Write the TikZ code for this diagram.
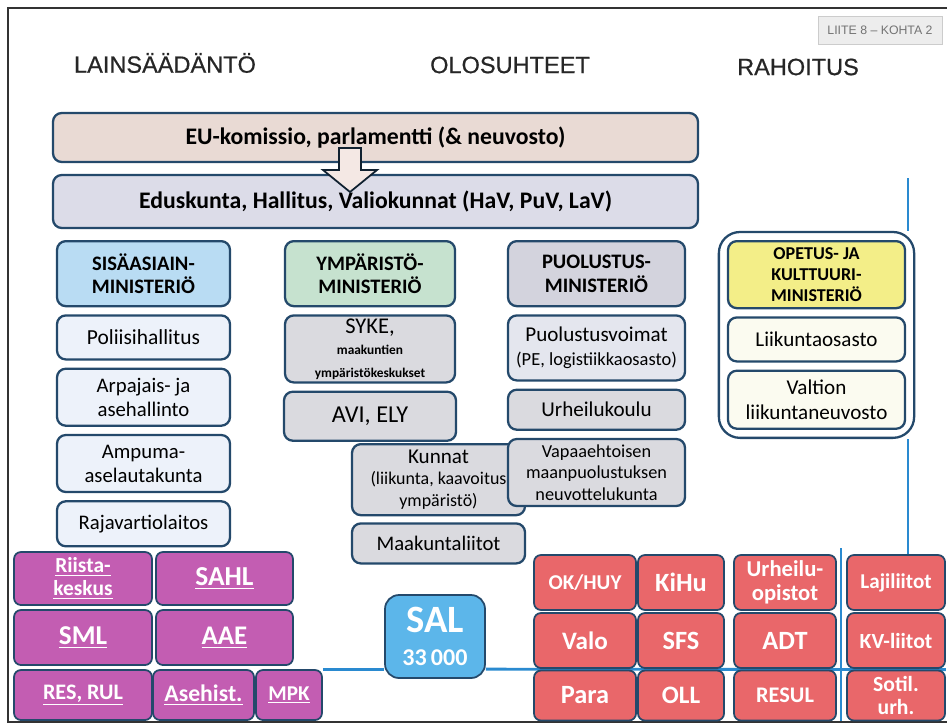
\documentclass[tikz,border=0pt]{standalone}
\usepackage{fontspec}
\setmainfont{Carlito}
\newfontfamily\titlefont{Liberation Sans}[FakeBold=0.6]
\newfontfamily\stampfont{Liberation Sans}
\usetikzlibrary{positioning,fit,backgrounds}

\definecolor{edge}{HTML}{24496B}
\definecolor{framegray}{HTML}{333333}
\definecolor{titlegray}{HTML}{262626}
\definecolor{eufill}{HTML}{E9DAD4}
\definecolor{parlfill}{HTML}{DCDCE8}
\definecolor{sisafill}{HTML}{B9DCF3}
\definecolor{sisasub}{HTML}{EDF2FA}
\definecolor{ympfill}{HTML}{C6E2CF}
\definecolor{graysub}{HTML}{DADADF}
\definecolor{puolfill}{HTML}{D3D3DD}
\definecolor{pvfill}{HTML}{E4E6EE}
\definecolor{okmfill}{HTML}{F3EE88}
\definecolor{okmsub}{HTML}{FBFBF0}
\definecolor{violetfill}{HTML}{C35DB2}
\definecolor{redfill}{HTML}{E9676A}
\definecolor{salfill}{HTML}{5CB6EA}
\definecolor{linkblue}{HTML}{2A8AD0}
\definecolor{arrowfill}{HTML}{F4E8E4}

\begin{document}
\begin{tikzpicture}[x=0.2mm,y=-0.2mm,
  node distance=1.4mm,
  box/.style={draw=edge,line width=1.3pt,rounded corners=5pt,align=center,inner sep=1pt,font=\fontsize{11.8}{13.7}\selectfont},
  head/.style={box,font=\bfseries\fontsize{11.7}{13.5}\selectfont},
  tile/.style={draw=edge,line width=1pt,rounded corners=4pt,align=center,inner sep=1pt,text=white,font=\bfseries\fontsize{15}{16}\selectfont},
  violet/.style={tile,fill=violetfill},
  redtile/.style={tile,fill=redfill},
  link/.style={draw=linkblue,line width=1.6pt},
  title/.style={font=\titlefont\fontsize{13.4}{15}\selectfont,text=titlegray}
]
\useasboundingbox (0,0) rectangle (947,724);

% frame and stamp
\draw[framegray,line width=1.1pt] (947,8) -- (8,8) -- (8,722) -- (947,722);
\node[draw=black!20,fill=black!7,text=black!55,font=\stampfont\fontsize{7}{8}\selectfont,
      minimum width=2.48cm,minimum height=0.56cm,inner sep=1pt] (stamp) at (880,30) {LIITE 8 – KOHTA 2};

\node[title] (laki) at (165,63) {LAINSÄÄDÄNTÖ};
\node[title] (olot) at (510,65) {OLOSUHTEET};
\node[title] (raha) at (798,67) {RAHOITUS};

\node[box,fill=eufill,font=\bfseries\fontsize{13.5}{15}\selectfont,minimum width=12.9cm,minimum height=0.98cm] (eu) at (375.5,137.5) {EU-komissio, parlamentti (\& neuvosto)};
\node[box,fill=parlfill,font=\bfseries\fontsize{13.5}{15}\selectfont,minimum width=12.9cm,minimum height=1.06cm] (parl) at (375.5,201.5) {Eduskunta, Hallitus, Valiokunnat (HaV, PuV, LaV)};

% hollow arrow EU -> Eduskunta
\draw[draw=black!55!edge,fill=arrowfill,line width=1pt] (339,148) -- (361,148) -- (361,170) -- (377,170) -- (350,192) -- (323,170) -- (339,170) -- cycle;

% Sisäasiainministeriö
\node[head,fill=sisafill,minimum width=3.46cm,minimum height=1.3cm,anchor=north] (sisa) at (143.5,240) {SISÄASIAIN-\\MINISTERIÖ};
\node[box,fill=sisasub,minimum width=3.46cm,minimum height=0.88cm,below=of sisa,font=\fontsize{12.2}{13.5}\selectfont] (poli) {Poliisihallitus};
\node[box,fill=sisasub,minimum width=3.46cm,minimum height=1.14cm,below=of poli] (arpa) {Arpajais- ja\\asehallinto};
\node[box,fill=sisasub,minimum width=3.46cm,minimum height=1.14cm,below=of arpa] (ampu) {Ampuma-\\aselautakunta};
\node[box,fill=sisasub,minimum width=3.46cm,minimum height=0.9cm,below=of ampu] (raja) {Rajavartiolaitos};

% Ympäristöministeriö
\node[head,fill=ympfill,minimum width=3.4cm,minimum height=1.3cm,anchor=north] (ymp) at (370,240) {YMPÄRISTÖ-\\MINISTERIÖ};
\node[box,fill=graysub,minimum width=3.4cm,minimum height=1.34cm,below=of ymp,font=\fontsize{12.8}{13}\selectfont] (syke) {SYKE,\\[-1pt]{\bfseries\fontsize{7.6}{9}\selectfont maakuntien}\\{\bfseries\fontsize{7.6}{9}\selectfont ympäristökeskukset}};
\node[box,fill=graysub,minimum width=3.44cm,minimum height=0.98cm,below=of syke,font=\fontsize{13.8}{15}\selectfont] (avi) {AVI, ELY};
\node[box,fill=graysub,minimum width=3.46cm,minimum height=1.42cm,anchor=north,font=\fontsize{12}{12.5}\selectfont] (kunnat) at (438.5,443) {Kunnat\\{\fontsize{10.2}{11.5}\selectfont (liikunta, kaavoitus}\\{\fontsize{10.2}{11.5}\selectfont ympäristö)}};
\node[box,fill=graysub,minimum width=3.46cm,minimum height=0.8cm,below=1.2mm of kunnat] (maak) {Maakuntaliitot};

% Puolustusministeriö
\node[head,fill=puolfill,minimum width=3.54cm,minimum height=1.3cm,anchor=north] (puol) at (596.5,240) {PUOLUSTUS-\\MINISTERIÖ};
\node[box,fill=pvfill,minimum width=3.54cm,minimum height=1.3cm,below=of puol,font=\fontsize{12}{13.5}\selectfont] (pv) {Puolustusvoimat\\{\fontsize{10.5}{12}\selectfont (PE, logistiikkaosasto)}};
\node[box,fill=graysub,minimum width=3.54cm,minimum height=0.8cm,below=of pv,font=\fontsize{12}{13}\selectfont] (urhk) {Urheilukoulu};
\node[box,fill=graysub,minimum width=3.54cm,minimum height=1.34cm,below=of urhk,font=\fontsize{10.4}{12.2}\selectfont] (vmpn) {Vapaaehtoisen\\maanpuolustuksen\\neuvottelukunta};

% Opetus- ja kulttuuriministeriö
\node[head,fill=okmfill,minimum width=3.54cm,minimum height=1.34cm,anchor=north,font=\bfseries\fontsize{10.3}{11.8}\selectfont] (okm) at (816.5,240) {OPETUS- JA\\KULTTUURI-\\MINISTERIÖ};
\node[box,fill=okmsub,minimum width=3.54cm,minimum height=0.88cm,below=of okm,font=\fontsize{12}{13}\selectfont] (liik) {Liikuntaosasto};
\node[box,fill=okmsub,minimum width=3.54cm,minimum height=1.16cm,below=of liik,font=\fontsize{12}{13.8}\selectfont] (vln) {Valtion\\liikuntaneuvosto};
\node[draw=edge,line width=1.3pt,rounded corners=12pt,inner sep=1.6mm,fit=(okm) (liik) (vln)] (okmframe) {};

% järjestöt
\node[violet,minimum width=2.76cm,minimum height=1.06cm,font=\bfseries\fontsize{12.2}{13.2}\selectfont] (riista) at (83,578.5) {\underline{Riista-}\\\underline{keskus}};
\node[violet,minimum width=2.74cm,minimum height=1.06cm,font=\bfseries\fontsize{15.6}{17}\selectfont] (sahl) at (224.5,578.5) {\underline{SAHL}};
\node[violet,minimum width=2.76cm,minimum height=1.1cm,font=\bfseries\fontsize{15.5}{17}\selectfont] (sml) at (83,637.5) {\underline{SML}};
\node[violet,minimum width=2.74cm,minimum height=1.1cm,font=\bfseries\fontsize{15.3}{17}\selectfont] (aae) at (224.5,637.5) {\underline{AAE}};
\node[violet,minimum width=2.76cm,minimum height=1.0cm,font=\bfseries\fontsize{12.6}{14}\selectfont] (resrul) at (83,695) {\underline{RES, RUL}};
\node[violet,minimum width=2.02cm,minimum height=1.0cm,font=\bfseries\fontsize{13.5}{15}\selectfont] (asehist) at (203.5,695) {\underline{Asehist.}};
\node[violet,minimum width=1.32cm,minimum height=1.0cm,font=\bfseries\fontsize{12}{13}\selectfont] (mpk) at (289,695) {\underline{MPK}};

\node[tile,fill=salfill,rounded corners=8pt,minimum width=2cm,minimum height=1.66cm,font=\bfseries\fontsize{22}{23}\selectfont] (sal) at (435,636.5) {SAL\\[-4pt]{\fontsize{13.7}{15}\selectfont 33\,000}};

\node[redtile,minimum width=2.04cm,minimum height=1.1cm,font=\bfseries\fontsize{12}{13}\selectfont] (okhuy) at (585,582.5) {OK/HUY};
\node[redtile,minimum width=1.72cm,minimum height=1.1cm,font=\bfseries\fontsize{15}{16}\selectfont] (kihu) at (681,582.5) {KiHu};
\node[redtile,minimum width=2.04cm,minimum height=1.1cm,font=\bfseries\fontsize{14.3}{15}\selectfont] (valo) at (585,640.5) {Valo};
\node[redtile,minimum width=1.72cm,minimum height=1.1cm,font=\bfseries\fontsize{15}{16}\selectfont] (sfs) at (681,640.5) {SFS};
\node[redtile,minimum width=2.04cm,minimum height=1.0cm,font=\bfseries\fontsize{15}{16}\selectfont] (para) at (585,695.5) {Para};
\node[redtile,minimum width=1.72cm,minimum height=1.0cm,font=\bfseries\fontsize{14.3}{15}\selectfont] (oll) at (681,695.5) {OLL};
\node[redtile,minimum width=2.04cm,minimum height=1.1cm,font=\bfseries\fontsize{12.9}{13.5}\selectfont] (uopist) at (785,582.5) {Urheilu-\\opistot};
\node[redtile,minimum width=2.04cm,minimum height=1.1cm,font=\bfseries\fontsize{15}{16}\selectfont] (adt) at (785,640.5) {ADT};
\node[redtile,minimum width=2.04cm,minimum height=1.0cm,font=\bfseries\fontsize{12.7}{14}\selectfont] (resul) at (785,695.5) {RESUL};
\node[redtile,minimum width=1.96cm,minimum height=1.1cm,font=\bfseries\fontsize{12}{13}\selectfont] (laji) at (896,582.5) {Lajiliitot};
\node[redtile,minimum width=1.96cm,minimum height=1.1cm,font=\bfseries\fontsize{12.3}{13.5}\selectfont] (kvl) at (896,640.5) {KV-liitot};
\node[redtile,minimum width=1.96cm,minimum height=1.0cm,font=\bfseries\fontsize{12.3}{13}\selectfont] (sotil) at (896,695.5) {Sotil.\\urh.};

% connectors behind the boxes
\coordinate (rtop) at (908,178);
\coordinate (split) at (841,548);
\begin{scope}[on background layer]
\draw[link] (rtop) -- (okmframe.north -| rtop);
\draw[link] (okmframe.south -| rtop) -- (laji.north -| rtop);
\draw[link] (split) -- (split |- sotil.south);
\draw[link] (mpk.north east) -- (sal.west |- mpk.north east);
\draw[link] (sal.east |- mpk.north east) -- (sotil.north east);
\end{scope}
\end{tikzpicture}
\end{document}
